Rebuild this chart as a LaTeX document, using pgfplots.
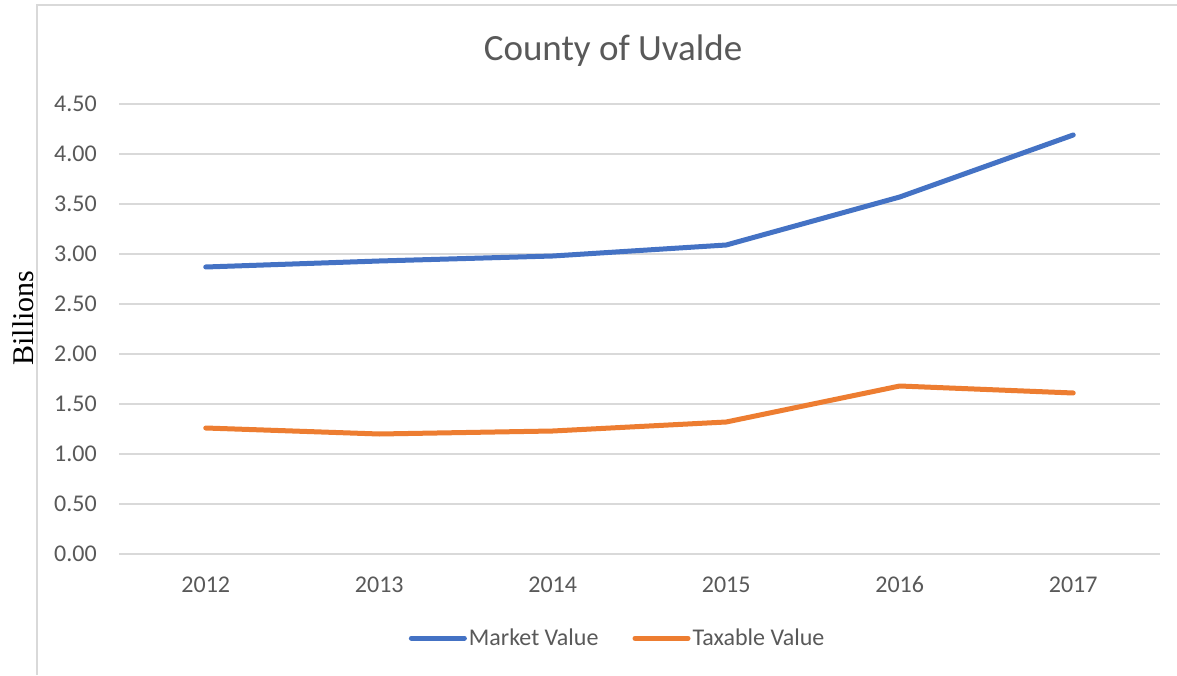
\documentclass[border=0pt]{standalone}
\usepackage{fontspec}
\setmainfont{Carlito}
\newfontfamily\serifb{Liberation Serif}
\usepackage{pgfplots}
\pgfplotsset{compat=1.18}
\definecolor{txtgray}{HTML}{595959}
\definecolor{gridgray}{HTML}{D9D9D9}
\definecolor{xlblue}{HTML}{4472C4}
\definecolor{xlorange}{HTML}{ED7D31}
\begin{document}
\begin{tikzpicture}
\useasboundingbox (0,0) rectangle (1177pt,675pt);
\fill[white] (0,0) rectangle (1177pt,675pt);
\draw[gridgray, line width=1.3pt] (37pt,0pt) -- (37pt,670pt) -- (1177pt,670pt);
\begin{axis}[
  at={(119pt,121pt)}, anchor=south west,
  scale only axis, width=1041pt, height=450pt,
  xmin=-0.5, xmax=5.5, ymin=0, ymax=4.5,
  xtick={0,1,2,3,4,5},
  xticklabels={2012,2013,2014,2015,2016,2017},
  ytick={0,0.5,...,4.5},
  yticklabel={\pgfmathprintnumber[fixed,fixed zerofill,precision=2]{\tick}},
  /pgf/number format/assume math mode=true,
  major tick length=0pt,
  axis line style={draw=none},
  ymajorgrids,
  major grid style={gridgray, line width=1.3pt},
  every tick label/.append style={font=\fontsize{24}{28}\selectfont, text=txtgray, inner sep=0pt},
  xticklabel style={anchor=base, yshift=-38pt},
  yticklabel style={xshift=-22pt},
  legend columns=2,
  legend style={draw=none, fill=none, at={(0.479,-0.187)}, anchor=center,
    font=\fontsize{24}{28}\selectfont, text=txtgray, inner sep=0pt,
    /tikz/every even column/.append style={column sep=32pt}},
  legend image code/.code={\draw[#1, line width=5pt, line cap=round] (0pt,0pt) -- (53pt,0pt);},
  legend cell align=left,
]
\addplot[xlblue, line width=5pt, line cap=round, line join=round] coordinates {
  (0,2.87) (1,2.93) (2,2.98) (3,3.09) (4,3.57) (5,4.19)};
\addlegendentry{Market Value}
\addplot[xlorange, line width=5pt, line cap=round, line join=round] coordinates {
  (0,1.26) (1,1.20) (2,1.23) (3,1.32) (4,1.68) (5,1.61)};
\addlegendentry{Taxable Value}
\end{axis}
\node[font=\fontsize{37}{44}\selectfont, text=txtgray, anchor=base] at (613pt,614pt) {County of Uvalde};
\node[font=\serifb\fontsize{30}{34}\selectfont, rotate=90, fill=white, inner sep=2pt, anchor=base] at (33pt,357pt) {Billions};
\end{tikzpicture}
\end{document}
